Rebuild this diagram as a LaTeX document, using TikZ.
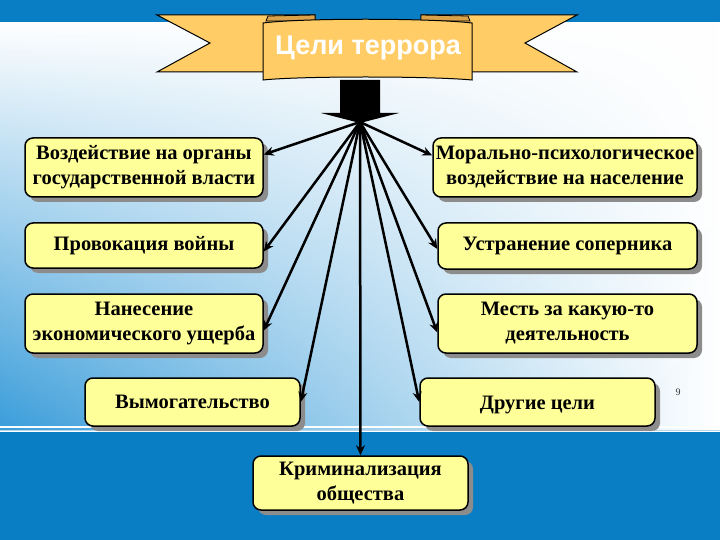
\documentclass[tikz,border=0pt]{standalone}
\usepackage{fontspec}
\setmainfont{Liberation Serif}
\newfontfamily\headfont{Liberation Sans}
\usetikzlibrary{arrows.meta,shadows,fadings}

\definecolor{bandblue}{HTML}{0A7EC5}
\definecolor{skyblue}{HTML}{3A9DDA}
\definecolor{midblue}{HTML}{5DB2E3}
\definecolor{ribbon}{HTML}{FFCC66}
\definecolor{ribbondark}{HTML}{D9A24A}
\definecolor{boxyellow}{HTML}{FFFF99}

\tikzset{
  goalbox/.style={draw=black, line width=1.5pt, fill=boxyellow, rounded corners=8pt,
    align=center, inner sep=0pt, font=\fontsize{20.5}{25}\selectfont\bfseries,
    drop shadow={shadow xshift=5pt, shadow yshift=-5pt, fill=black!45, opacity=1}},
  goalarrow/.style={line width=2.5pt, -{Stealth[length=10pt,width=9pt]}},
}

\begin{document}
\begin{tikzpicture}[x=1pt, y=-1pt]
  \useasboundingbox (0,0) rectangle (720,540);

  % Draw the background
  \shade[left color=skyblue, middle color=midblue, right color=white] (0,22) rectangle (720,430);
  \fill[white, path fading=south] (0,22) rectangle (720,430);
  \fill[bandblue] (0,0) rectangle (720,22);
  \fill[bandblue] (0,432) rectangle (720,540);
  \draw[white, line width=1.5pt] (0,427) -- (720,427);
  \draw[white!70!bandblue, line width=1pt] (0,430.5) -- (720,430.5);

  % Draw the ribbon tails
  \draw[fill=ribbon, line width=1pt] (157,15) -- (315,15) -- (315,72) -- (157,72) -- (210,43) -- cycle;
  \draw[fill=ribbon, line width=1pt] (577,15) -- (421,15) -- (421,72) -- (577,72) -- (525,43) -- cycle;
  \draw[fill=ribbondark, line width=0.8pt] (266,21) -- (268,16) -- (315,15) -- (315,21) -- cycle;
  \draw[fill=ribbondark, line width=0.8pt] (421,21) -- (421,15) -- (468,16) -- (470,21) -- cycle;

  % Draw the ribbon with the title
  \draw[fill=ribbon, line width=1pt] (263,23) .. controls (300,18) and (430,18) .. (472,23)
    -- (472,80) .. controls (430,76) and (300,76) .. (263,80) -- cycle;
  \node[text=white, font=\headfont\fontsize{27}{30}\selectfont\bfseries] (title) at (368,48) {Цели террора};

  % Draw the fat arrow
  \fill (340,80) -- (380,80) -- (380,113) -- (399,113) -- (360,123) -- (321,113) -- (340,113) -- cycle;
  \coordinate (hub) at (360,122);

  % Draw the goals
  \node[goalbox, minimum width=238pt, minimum height=59pt] (gov) at (144,167.5)
    {Воздействие на органы\\государственной власти};
  \node[goalbox, minimum width=238pt, minimum height=45pt] (war) at (144,245.5)
    {Провокация войны};
  \node[goalbox, minimum width=238pt, minimum height=59pt] (econ) at (144,323.5)
    {Нанесение\\экономического ущерба};
  \node[goalbox, minimum width=264pt, minimum height=59pt] (moral) at (565,167.5)
    {Морально-психологическое\\воздействие на население};
  \node[goalbox, minimum width=259pt, minimum height=46pt] (rival) at (567.5,246)
    {Устранение соперника};
  \node[goalbox, minimum width=259pt, minimum height=59pt] (revenge) at (567.5,323.5)
    {Месть за какую-то\\деятельность};
  \node[goalbox, minimum width=215pt, minimum height=48pt] (extort) at (192.5,402)
    {Вымогательство};
  \node[goalbox, minimum width=235pt, minimum height=48pt, text height=19pt] (other) at (537.5,402)
    {Другие цели};
  \node[goalbox, minimum width=215pt, minimum height=54pt] (crime) at (360.5,483)
    {Криминализация\\общества};

  % Draw the arrows from the hub
  \draw[goalarrow] (hub) -- ([yshift=13pt]gov.east);
  \draw[goalarrow] (hub) -- ([yshift=-6pt]war.east);
  \draw[goalarrow] (hub) -- ([yshift=-7pt]econ.east);
  \draw[goalarrow] (hub) -- ([yshift=12pt]moral.west);
  \draw[goalarrow] (hub) -- ([yshift=-3pt]rival.west);
  \draw[goalarrow] (hub) -- ([yshift=-9pt]revenge.west);
  \draw[goalarrow] (hub) -- (extort.east);
  \draw[goalarrow] (hub) -- (other.west);
  \draw[goalarrow] (hub) -- (crime.north);

  % Draw the page number
  \node[font=\fontsize{10}{12}\selectfont, text=black!80] (page) at (678,392) {9};
\end{tikzpicture}
\end{document}
